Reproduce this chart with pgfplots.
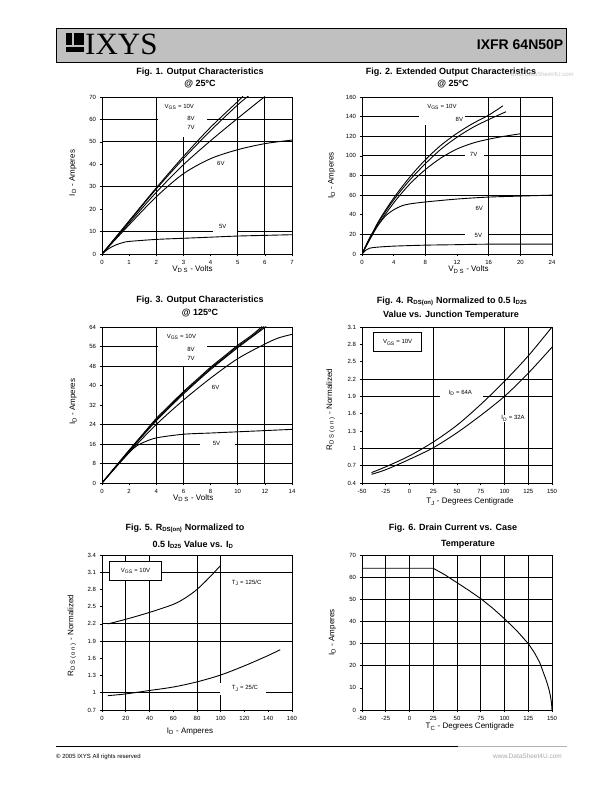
\documentclass[border=0pt]{standalone}
\usepackage{fontspec}
\setmainfont{Liberation Sans}
\newfontfamily\serifx{Liberation Serif}
\usepackage{pgfplots}
\pgfplotsset{compat=1.18}
\definecolor{hdr}{RGB}{192,192,192}
\pgfplotsset{
 ds/.style={scale only axis, width=190pt, axis line style={line width=0.9pt},
   tick align=outside, xtick pos=left, ytick pos=left, major tick length=2.5pt,
   tick style={black,line width=0.7pt},
   tick label style={font=\fontsize{6}{7}\selectfont},
   /pgf/number format/assume math mode=true,
   label style={font=\fontsize{8}{9}\selectfont},
   every axis plot/.append style={black,line width=0.9pt,mark=none},
   clip=true,
 },
}
\tikzset{gl/.style={line width=0.9pt}}
\newcommand{\ttl}{\fontsize{9}{10}\selectfont\bfseries}
\newcommand{\lbl}{\fontsize{6}{7}\selectfont}
\begin{document}
\begin{tikzpicture}[x=1pt,y=1pt]
\path[use as bounding box] (0,0) rectangle (595,791);
% header
\filldraw[fill=hdr,draw=black,line width=0.9pt] (56,763) rectangle (566.5,729);
\fill[black] (66,758) rectangle (72,746);
\fill[black] (74,758) rectangle (84,746);
\fill[black] (66,744) rectangle (84,739);
\node[anchor=west,inner sep=0pt,font=\serifx\fontsize{31}{31}\selectfont] at (85,747) {IXYS};
\node[anchor=east,inner sep=0pt,font=\bfseries\fontsize{14}{14}\selectfont] at (563.5,746.5) {IXFR 64N50P};
% footer
\draw[line width=0.9pt] (56,45) -- (458,45);
\draw[line width=0.9pt,gray!60] (458,45) -- (566.5,45);
\node[anchor=west,inner sep=0pt,font=\fontsize{6}{7}\selectfont] at (56,34.5) {© 2005 IXYS All rights reserved};
\node[anchor=east,inner sep=0pt,font=\fontsize{6.5}{7}\selectfont,text=gray!70] at (562,34.5) {www.DataSheet4U.com};
% titles
\node[font=\ttl] at (200,718.3) {Fig. 1. Output Characteristics};
\node[font=\ttl] at (200,707) {@ 25ºC};
\node[font=\ttl] at (451,718.3) {Fig. 2. Extended Output Characteristics};
\node[font=\fontsize{6}{7}\selectfont,text=gray!45] at (542,716.5) {www.DataSheet4U.com};
\node[font=\ttl] at (453,707) {@ 25ºC};
\node[font=\ttl] at (200,490.3) {Fig. 3. Output Characteristics};
\node[font=\ttl] at (200,478) {@ 125ºC};
\node[font=\ttl] at (452,489.5) {Fig. 4. R\textsubscript{DS(on)} Normalized to 0.5 I\textsubscript{D25}};
\node[font=\ttl] at (451,476) {Value vs. Junction Temperature};
\node[font=\ttl] at (185,263) {Fig. 5. R\textsubscript{DS(on)} Normalized to};
\node[font=\ttl] at (193,246) {0.5 I\textsubscript{D25} Value vs. I\textsubscript{D}};
\node[font=\ttl] at (453,263) {Fig. 6. Drain Current vs. Case};
\node[font=\ttl] at (468,247) {Temperature};

% ---------- Fig 1
\begin{axis}[ds, at={(102pt,537pt)}, anchor=south west, height=157pt,
  xmin=0,xmax=7,ymin=0,ymax=70, xtick={0,1,...,7}, ytick={0,10,...,70},
  xlabel={V\textsubscript{D S} - Volts}, ylabel={I\textsubscript{D} - Amperes},
  xlabel style={at={(axis description cs:0.476,-0.096)},anchor=center},
  ylabel style={at={(axis description cs:-0.153,0.516)},anchor=center}]
\draw[gl] (axis cs:2,0)--(axis cs:2,70);
\draw[gl] (axis cs:3,0)--(axis cs:3,52);
\draw[gl] (axis cs:5,0)--(axis cs:5,70);
\draw[gl] (axis cs:6,0)--(axis cs:6,70);
\draw[gl] (axis cs:0,60)--(axis cs:7,60);
\draw[gl] (axis cs:0,50)--(axis cs:7,50);
\draw[gl] (axis cs:0,30)--(axis cs:7,30);
\draw[gl] (axis cs:0,10)--(axis cs:7,10);
\fill[white] (axis cs:2.06,52) rectangle (axis cs:3.86,69.6);
\fill[white] (axis cs:4.1,8.9) rectangle (axis cs:4.97,15.5);
\addplot[smooth] coordinates {(0,0) (1,14.8) (2,29.5) (3,43.5) (4,56.5) (5,68) (5.2,70.5)};
\addplot[smooth] coordinates {(0,0) (1,14.5) (2,29) (3,42.5) (4,55) (5,66.5) (5.4,70.5)};
\addplot[smooth] coordinates {(0,0) (1,13.8) (2,27.5) (3,39.8) (4,50.5) (5,60.5) (6,70.2)};
\addplot[smooth] coordinates {(0,0) (1,13) (2,25.5) (3,35.8) (4,42.5) (5,46.5) (6,49.2) (7,50.8)};
\addplot[smooth] coordinates {(0,0) (0.25,2.4) (0.5,4) (0.75,5) (1,5.6) (2,6.5) (3,7) (4,7.5) (5,8) (6,8.3) (7,8.6)};
\node[font=\lbl] at (axis cs:2.85,65.5) {V\textsubscript{GS} = 10V};
\node[font=\lbl] at (axis cs:3.28,60.3) {8V};
\node[font=\lbl] at (axis cs:3.28,56.3) {7V};
\node[font=\lbl] at (axis cs:4.38,40.3) {6V};
\node[font=\lbl] at (axis cs:4.45,12.3) {5V};
\end{axis}

% ---------- Fig 2
\begin{axis}[ds, at={(362pt,537pt)}, anchor=south west, height=157pt,
  xmin=0,xmax=24,ymin=0,ymax=160, xtick={0,4,...,24}, ytick={0,20,...,160},
  xlabel={V\textsubscript{D S} - Volts}, ylabel={I\textsubscript{D} - Amperes},
  xlabel style={at={(axis description cs:0.56,-0.10)},anchor=center},
  ylabel style={at={(axis description cs:-0.159,0.5)},anchor=center}]
\draw[gl] (axis cs:8,0)--(axis cs:8,131);
\draw[gl] (axis cs:16,0)--(axis cs:16,160);
\draw[gl] (axis cs:20,0)--(axis cs:20,160);
\pgfplotsinvokeforeach{140,120,100,80,60,20}{\draw[gl] (axis cs:0,#1)--(axis cs:24,#1);}
\fill[white] (axis cs:7.2,131) rectangle (axis cs:13.0,158.5);
\fill[white] (axis cs:13.0,96) rectangle (axis cs:15.4,106);
\fill[white] (axis cs:13.0,15) rectangle (axis cs:15.9,23);
\addplot[smooth] coordinates {(0,0) (2,32) (4,57) (6,78) (8,96) (10,111) (12,123) (14,133) (16,141.5) (17.8,151)};
\addplot[smooth] coordinates {(0,0) (2,31) (4,55) (6,75) (8,92) (10,107) (12,119) (14,129) (16,137) (18.2,145)};
\addplot[smooth] coordinates {(0,0) (2,29) (4,52) (6,71) (8,86) (10,98) (12,107) (14,113) (16,117) (18,120) (20,122.5)};
\addplot[smooth] coordinates {(0,0) (1,17) (2,29) (3,39) (4,45) (5,49) (6,51) (8,53) (12,56) (16,58) (20,59) (24,60)};
\addplot[smooth] coordinates {(0,0) (0.5,4) (1,6) (2,7) (4,8) (8,9) (12,9.5) (16,10) (24,10)};
\node[font=\lbl] at (axis cs:10.1,150) {V\textsubscript{GS} = 10V};
\node[font=\lbl] at (axis cs:12.3,137.5) {8V};
\node[font=\lbl] at (axis cs:14.1,101) {7V};
\node[font=\lbl] at (axis cs:14.8,46.6) {6V};
\node[font=\lbl] at (axis cs:14.7,18.5) {5V};
\end{axis}

% ---------- Fig 3
\begin{axis}[ds, at={(102pt,308pt)}, anchor=south west, height=156pt,
  xmin=0,xmax=14,ymin=0,ymax=64, xtick={0,2,...,14}, ytick={0,8,...,64},
  xlabel={V\textsubscript{D S} - Volts}, ylabel={I\textsubscript{D} - Amperes},
  xlabel style={at={(axis description cs:0.48,-0.097)},anchor=center},
  ylabel style={at={(axis description cs:-0.151,0.52)},anchor=center}]
\draw[gl] (axis cs:4,0)--(axis cs:4,64);
\draw[gl] (axis cs:6,0)--(axis cs:6,47.7);
\draw[gl] (axis cs:10,0)--(axis cs:10,64);
\draw[gl] (axis cs:12,0)--(axis cs:12,64);
\pgfplotsinvokeforeach{56,48,24,16,8}{\draw[gl] (axis cs:0,#1)--(axis cs:14,#1);}
\fill[white] (axis cs:4.16,48.4) rectangle (axis cs:7.7,63.6);
\fill[white] (axis cs:7.2,13.8) rectangle (axis cs:9.8,18.8);
\addplot[smooth] coordinates {(0,0) (1,6.8) (2,13.5) (3,20) (4,26.5) (5,32) (6,37.5) (7,42.5) (8,47.5) (9,52) (10,56.5) (11,60.5) (11.8,64.2)};
\addplot[smooth] coordinates {(0,0) (1,6.7) (2,13.3) (3,19.7) (4,26) (5,31.6) (6,37) (7,42) (8,47) (9,51.5) (10,56) (11,60) (11.95,64.2)};
\addplot[smooth] coordinates {(0,0) (2,13) (4,25.5) (6,36.5) (8,46.5) (10,55.5) (12.1,64.2)};
\addplot[smooth] coordinates {(0,0) (2,12.5) (4,24) (6,34) (8,43) (10,51) (12,57) (13,59.5) (14,61)};
\addplot[smooth] coordinates {(0,0) (1,6.5) (2,12.5) (2.5,15) (3,16.5) (4,18.5) (6,20) (8,20.5) (10,21) (12,21.5) (14,22)};
\node[font=\lbl] at (axis cs:5.85,59.9) {V\textsubscript{GS} = 10V};
\node[font=\lbl] at (axis cs:6.56,54.8) {8V};
\node[font=\lbl] at (axis cs:6.56,51.1) {7V};
\node[font=\lbl] at (axis cs:8.37,39.1) {6V};
\node[font=\lbl] at (axis cs:8.44,16.1) {5V};
\end{axis}

% ---------- Fig 4
\begin{axis}[ds, at={(362pt,308pt)}, anchor=south west, height=156pt,
  xmin=-50,xmax=150,ymin=0.4,ymax=3.1, xtick={-50,-25,...,150},
  ytick={0.4,0.7,1.0,1.3,1.6,1.9,2.2,2.5,2.8,3.1},
  yticklabels={0.4,0.7,1,1.3,1.6,1.9,2.2,2.5,2.8,3.1},
  xlabel={T\textsubscript{J} - Degrees Centigrade}, ylabel={R\textsubscript{D S ( o n )} - Normalized},
  xlabel style={at={(axis description cs:0.568,-0.12)},anchor=center},
  ylabel style={at={(axis description cs:-0.165,0.47)},anchor=center}]
\draw[gl] (axis cs:25,0.4)--(axis cs:25,3.1);
\draw[gl] (axis cs:100,0.4)--(axis cs:100,3.1);
\draw[gl] (axis cs:125,0.4)--(axis cs:125,3.1);
\pgfplotsinvokeforeach{2.2,1.9,1.0,0.7}{\draw[gl] (axis cs:-50,#1)--(axis cs:150,#1);}
\fill[white] (axis cs:32.5,1.84) rectangle (axis cs:77.4,2.06);
\addplot[smooth] coordinates {(-40,0.58) (-25,0.68) (0,0.87) (25,1.11) (50,1.40) (75,1.76) (100,2.16) (125,2.6) (150,3.1)};
\addplot[smooth] coordinates {(-40,0.55) (-25,0.63) (0,0.81) (25,1.01) (50,1.27) (75,1.57) (100,1.9) (125,2.3) (150,2.75)};
\draw[line width=0.9pt,fill=white] (axis cs:-38,3.0) rectangle (axis cs:13,2.67);
\node[font=\lbl] at (axis cs:-12.5,2.835) {V\textsubscript{GS} = 10V};
\node[font=\lbl] at (axis cs:53.5,1.96) {I\textsubscript{D} = 64A};
\node[font=\lbl,fill=white,inner sep=1pt] at (axis cs:109,1.52) {I\textsubscript{D} = 32A};
\end{axis}

% ---------- Fig 5
\begin{axis}[ds, at={(102pt,81pt)}, anchor=south west, height=155pt,
  xmin=0,xmax=160,ymin=0.7,ymax=3.4, xtick={0,20,...,160},
  ytick={0.7,1.0,1.3,1.6,1.9,2.2,2.5,2.8,3.1,3.4},
  yticklabels={0.7,1,1.3,1.6,1.9,2.2,2.5,2.8,3.1,3.4},
  xlabel={I\textsubscript{D} - Amperes}, ylabel={R\textsubscript{D S ( o n )} - Normalized},
  xlabel style={at={(axis description cs:0.463,-0.14)},anchor=center},
  ylabel style={at={(axis description cs:-0.159,0.48)},anchor=center}]
\pgfplotsinvokeforeach{20,40,80,100}{\draw[gl] (axis cs:#1,0.7)--(axis cs:#1,3.4);}
\pgfplotsinvokeforeach{3.1,2.2,1.9,1.0}{\draw[gl] (axis cs:0,#1)--(axis cs:160,#1);}
\fill[white] (axis cs:99.6,0.96) rectangle (axis cs:138.5,1.17);
\addplot[smooth] coordinates {(5,2.2) (20,2.28) (40,2.4) (60,2.54) (70,2.65) (80,2.8) (90,3.0) (100,3.22)};
\addplot[smooth] coordinates {(5,0.95) (20,0.98) (40,1.04) (60,1.1) (80,1.19) (100,1.31) (120,1.47) (140,1.65) (150,1.75)};
\draw[line width=0.9pt,fill=white] (axis cs:6.1,3.28) rectangle (axis cs:50.3,2.96);
\node[font=\lbl] at (axis cs:28.2,3.12) {V\textsubscript{GS} = 10V};
\node[font=\lbl] at (axis cs:121.8,2.92) {T\textsubscript{J} = 125/C};
\node[font=\lbl] at (axis cs:120.4,1.08) {T\textsubscript{J} = 25/C};
\end{axis}

% ---------- Fig 6
\begin{axis}[ds, at={(362pt,81pt)}, anchor=south west, height=155pt,
  xmin=-50,xmax=150,ymin=0,ymax=70, xtick={-50,-25,...,150}, ytick={0,10,...,70},
  xlabel={T\textsubscript{C} - Degrees Centigrade}, ylabel={I\textsubscript{D} - Amperes},
  xlabel style={at={(axis description cs:0.568,-0.108)},anchor=center},
  ylabel style={at={(axis description cs:-0.156,0.5)},anchor=center}]
\pgfplotsinvokeforeach{-25,0,25,50,75,100,125}{\draw[gl] (axis cs:#1,0)--(axis cs:#1,70);}
\pgfplotsinvokeforeach{60,50,40,30,20}{\draw[gl] (axis cs:-50,#1)--(axis cs:150,#1);}
\addplot[black,sharp plot,mark=none,line width=0.9pt] coordinates {(-50,64) (25,64) (37.5,61) (50,57.5) (62.5,54) (75,50.3) (87.5,46) (100,41.2) (112.5,36) (125,30) (132,25.5) (137,21.5) (140,18) (143,14.5) (145,12) (147,9) (148.5,6) (149.5,3) (150,0)};
\end{axis}
\end{tikzpicture}
\end{document}
